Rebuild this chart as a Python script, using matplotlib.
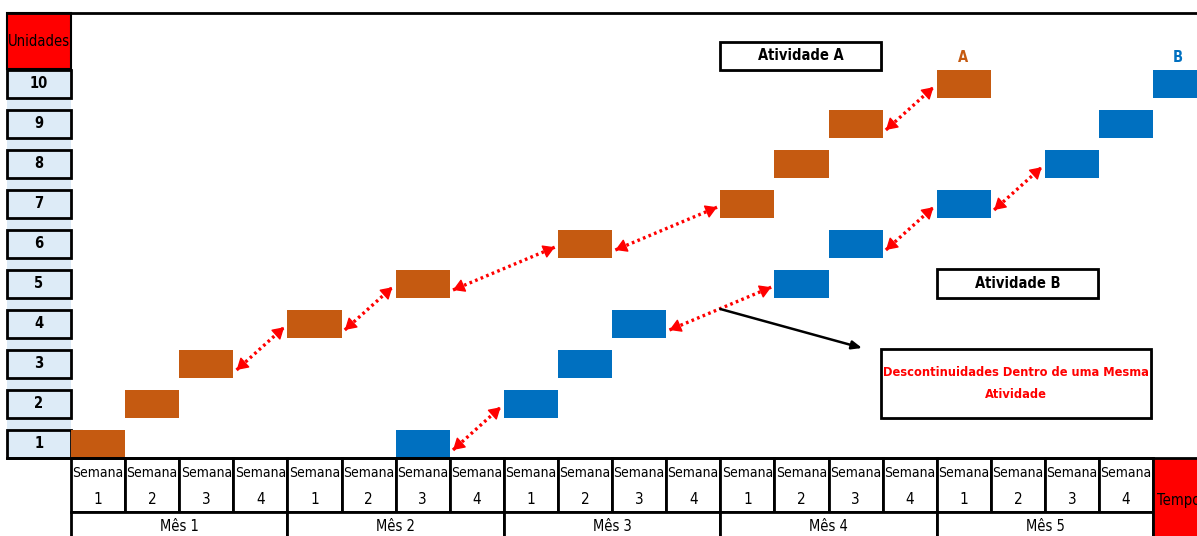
import numpy as np
import matplotlib
matplotlib.use("Agg")
import matplotlib.pyplot as plt
from matplotlib.patches import Rectangle

plt.rcParams['font.family'] = ['DejaVu Sans']
plt.rcParams['font.stretch'] = 'condensed'

# unidades (eixo y) e semana de execucao de cada unidade por atividade
unidades = list(range(1, 11))
semanas_a = [1, 2, 3, 5, 7, 10, 13, 14, 15, 17]
semanas_b = [7, 9, 10, 11, 14, 15, 17, 19, 20, 21]
semanas_label = ["1", "2", "3", "4"] * 5
meses = ["Mês 1", "Mês 2", "Mês 3", "Mês 4", "Mês 5"]

cor_a = "#C55A11"
cor_b = "#0070C0"
azul_claro = "#DDEBF7"
vermelho = "#FF0000"

fig = plt.figure(figsize=(11.97, 5.36), dpi=100)
ax = fig.add_axes([0, 0, 1, 1])
ax.set_xlim(-1.312, 20.81)
ax.set_ylim(-1.3, 12.1)
ax.axis("off")

h = 0.7
x_left = -1.183
y_base = 0.65
y_top = 11.775

# coluna das unidades
ax.add_patch(Rectangle((x_left, y_base), -x_left, 10.375 - y_base, facecolor=azul_claro, edgecolor="none"))
ax.add_patch(Rectangle((x_left, 10.375), -x_left, y_top - 10.375, facecolor=vermelho, edgecolor="black", lw=1.5))
ax.text(x_left / 2, 11.07, "Unidades", ha="center", va="center", fontsize=10.5)
for u in unidades:
    ax.add_patch(Rectangle((x_left, u - h / 2), -x_left, h, facecolor=azul_claro, edgecolor="black", lw=2))
    ax.text(x_left / 2, u, str(u), ha="center", va="center", fontsize=10.5, fontweight="bold")

# linha superior
ax.plot([x_left, 20.81], [y_top, y_top], color="black", lw=2)

# barras das atividades
ax.barh(unidades, 1, left=np.array(semanas_a) - 1, height=h, color=cor_a)
ax.barh(unidades, 1, left=np.array(semanas_b) - 1, height=h, color=cor_b)


def seta_pontilhada(p0, p1):
    # linha pontilhada com pontas cheias nas duas extremidades
    ax.plot([p0[0], p1[0]], [p0[1], p1[1]], color="red", lw=2.4,
            linestyle=(0, (0.8, 1.0)), solid_capstyle="butt", dash_capstyle="butt")
    d0 = ax.transData.transform(p0)
    d1 = ax.transData.transform(p1)
    v = (d1 - d0) / np.hypot(*(d1 - d0))
    inv = ax.transData.inverted()
    for tip, back in ((p1, inv.transform(d1 - 6 * v)), (p0, inv.transform(d0 + 6 * v))):
        ax.annotate("", xy=tip, xytext=back,
                    arrowprops=dict(arrowstyle="-|>,head_length=0.7,head_width=0.42",
                                    color="red", lw=1, shrinkA=0, shrinkB=0))


# setas de descontinuidade
for semanas in (semanas_a, semanas_b):
    for i in range(len(semanas) - 1):
        if semanas[i + 1] - semanas[i] > 1:
            seta_pontilhada((semanas[i] + 0.06, unidades[i] - 0.15),
                            (semanas[i + 1] - 1 - 0.06, unidades[i + 1] - 0.08))

ax.annotate("", xy=(14.62, 3.4), xytext=(12.0, 4.375),
            arrowprops=dict(arrowstyle="-|>,head_length=0.6,head_width=0.25", color="black", lw=1.8,
                            shrinkA=0, shrinkB=0))


def caixa(x0, x1, y0, y1, texto, cor="black", fs=10.5):
    ax.add_patch(Rectangle((x0 + 0.03, y0 - 0.04), x1 - x0, y1 - y0, facecolor="#BBBBBB", edgecolor="none"))
    ax.add_patch(Rectangle((x0, y0), x1 - x0, y1 - y0, facecolor="white", edgecolor="black", lw=2))
    ax.text((x0 + x1) / 2, (y0 + y1) / 2, texto, ha="center", va="center", color=cor,
            fontsize=fs, fontweight="bold", linespacing=1.9)


caixa(12.0, 14.97, 10.35, 11.05, "Atividade A")
caixa(16.0, 18.98, 4.65, 5.375, "Atividade B")
caixa(14.97, 19.96, 1.65, 3.375, "Descontinuidades Dentro de uma Mesma\nAtividade", cor="red", fs=9.2)

ax.text(16.49, 10.675, "A", ha="center", va="center", color=cor_a, fontsize=10.5, fontweight="bold")
ax.text(20.46, 10.675, "B", ha="center", va="center", color=cor_b, fontsize=10.5, fontweight="bold")

# cabecalho de semanas e meses
y_sem = -0.7
for i, s in enumerate(semanas_label):
    ax.add_patch(Rectangle((i, y_sem), 1, y_base - y_sem, facecolor="white", edgecolor="black", lw=2))
    ax.text(i + 0.5, 0.27, "Semana", ha="center", va="center", fontsize=10)
    ax.text(i + 0.5, -0.38, s, ha="center", va="center", fontsize=11)
for j, m in enumerate(meses):
    ax.add_patch(Rectangle((4 * j, -1.8), 4, y_sem + 1.8, facecolor="white", edgecolor="black", lw=2))
    ax.text(4 * j + 2, -1.07, m, ha="center", va="center", fontsize=10.5)
ax.plot([x_left, 20], [y_base, y_base], color="black", lw=2)

ax.add_patch(Rectangle((20, -1.8), 1.5, y_base + 1.8, facecolor=vermelho, edgecolor="black", lw=2))
ax.text(20.07, -0.4, "Tempo", ha="left", va="center", fontsize=10.5)

fig.savefig("out.png", dpi=100)
